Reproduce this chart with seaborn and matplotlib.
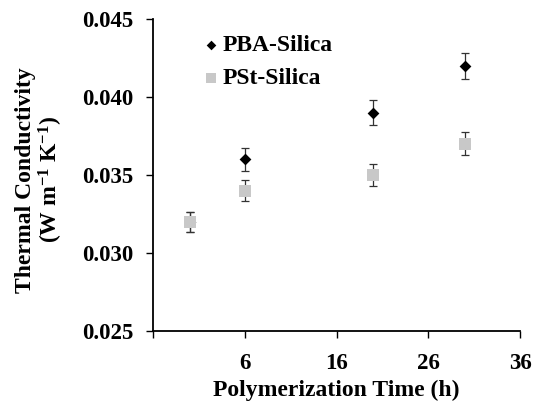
import matplotlib
matplotlib.use("Agg")
import matplotlib.pyplot as plt
import seaborn as sns
import pandas as pd

time_h = [0, 6, 20, 30]
pba_values = [0.032, 0.036, 0.039, 0.042]
pba_errors = [0.00064, 0.00072, 0.00078, 0.00084]
pst_values = [0.032, 0.034, 0.035, 0.037]
pst_errors = [0.00064, 0.00068, 0.00070, 0.00074]
series_names = ["PBA-Silica", "PSt-Silica"]
x_ticks = [-4, 6, 16, 26, 36]
x_tick_labels = ["", "6", "16", "26", "36"]
y_ticks = [0.025, 0.030, 0.035, 0.040, 0.045]

sns.set_theme(style="ticks")
plt.rcParams['font.family'] = ['Liberation Serif', 'DejaVu Serif']
plt.rcParams['font.weight'] = 'bold'
plt.rcParams['text.color'] = 'black'
plt.rcParams['mathtext.fontset'] = 'custom'
plt.rcParams['mathtext.rm'] = 'Liberation Serif:bold'
plt.rcParams['mathtext.bf'] = 'Liberation Serif:bold'
plt.rcParams['mathtext.default'] = 'rm'

df = pd.DataFrame({
    "time": time_h * 2,
    "value": pba_values + pst_values,
    "err": pba_errors + pst_errors,
    "series": [series_names[0]] * 4 + [series_names[1]] * 4,
})

fig = plt.figure(figsize=(5.34, 4.03), dpi=100)
ax = fig.add_axes([0.2865, 0.1787, 0.974 - 0.2865, 0.9529 - 0.1787])

palette = {series_names[0]: "black", series_names[1]: "#c8c8c8"}
markers = {series_names[0]: "D", series_names[1]: "s"}
sizes_map = {series_names[0]: 36, series_names[1]: 70}
legend_sizes = {series_names[0]: 24, series_names[1]: 48}

for name in series_names:
    sub = df[df.series == name]
    ax.errorbar(sub["time"], sub["value"], yerr=sub["err"], fmt="none",
                ecolor="#333333", elinewidth=0.9, capsize=2.6, capthick=0.9, zorder=2)
    sns.scatterplot(data=sub, x="time", y="value", color=palette[name],
                    marker=markers[name], s=sizes_map[name], edgecolor=palette[name],
                    linewidth=0, label=name, ax=ax, zorder=3)

ax.set_xlim(-4, 36)
ax.set_ylim(0.025, 0.045)
ax.set_xticks(x_ticks)
ax.set_xticklabels(x_tick_labels)
ax.set_yticks(y_ticks)
ax.set_yticklabels([f"{v:.3f}" for v in y_ticks])
ax.tick_params(axis="both", direction="out", length=5, width=1.0, color="black",
               labelsize=16.5, labelcolor="black")
ax.tick_params(axis="y", pad=9)
ax.tick_params(axis="x", pad=11)
for lab in ax.get_xticklabels() + ax.get_yticklabels():
    lab.set_fontweight("bold")

for side in ["top", "right"]:
    ax.spines[side].set_visible(False)
for side in ["left", "bottom"]:
    ax.spines[side].set_color("black")
    ax.spines[side].set_linewidth(1.3)

ax.set_xlabel("Polymerization Time (h)", fontsize=17, fontweight="bold", color="black", labelpad=4)
ax.set_ylabel("Thermal Conductivity\n(W m$^{-1}$ K$^{-1}$)", fontsize=17, fontweight="bold",
              color="black", labelpad=13, linespacing=1.05)
ax.yaxis.set_label_coords(-0.24, 0.485)

leg = ax.legend(loc="upper left", bbox_to_anchor=(0.135, 0.95), frameon=False,
                prop={"family": "Liberation Serif", "weight": "bold", "size": 17},
                handletextpad=0.15, labelspacing=0.5, handlelength=0.7, borderaxespad=0,
                borderpad=0, labelcolor="black")
for h, name in zip(leg.legend_handles, series_names):
    h.set_sizes([legend_sizes[name]])

fig.savefig("out.png", dpi=100)
